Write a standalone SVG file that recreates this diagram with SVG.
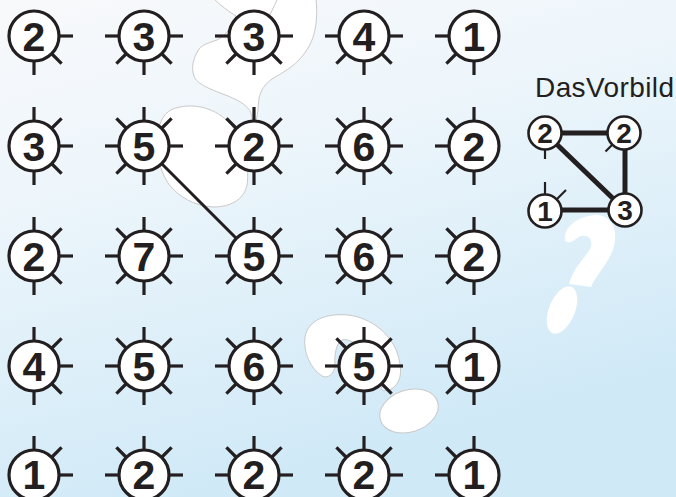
<svg xmlns="http://www.w3.org/2000/svg" xmlns:xlink="http://www.w3.org/1999/xlink" width="676" height="497" viewBox="0 0 676 497">
<style>
.sp{stroke:#231f20;stroke-width:3.2;stroke-linecap:butt}
.nc{fill:#fff;stroke:#231f20;stroke-width:3.2}
.nt{font-family:"Liberation Sans",Arial,sans-serif;font-weight:bold;font-size:41px;fill:#231f20;text-anchor:middle}
.blob{fill:#fff;stroke:#c9c9c9;stroke-width:1}
.conn{stroke:#231f20;stroke-width:3;fill:none}
.sconn{stroke:#231f20;stroke-width:5;fill:none}
.ssp{stroke:#231f20;stroke-width:2.2}
.snc{fill:#fff;stroke:#231f20;stroke-width:2.6}
.snt{font-family:"Liberation Sans",Arial,sans-serif;font-weight:bold;font-size:28px;fill:#231f20;text-anchor:middle}
.lbl{font-family:"Liberation Sans",Arial,sans-serif;font-size:28px;fill:#231f20}
</style>
<defs>
<linearGradient id="bg" x1="0" y1="0" x2="0.35" y2="1">
<stop offset="0" stop-color="#f8f9fb"/>
<stop offset="0.35" stop-color="#eef6fb"/>
<stop offset="1" stop-color="#cfe9f7"/>
</linearGradient>
<line id="N" class="sp" x1="0" y1="-24" x2="0" y2="-39"/>
<line id="S" class="sp" x1="0" y1="24" x2="0" y2="39"/>
<line id="E" class="sp" x1="24" y1="0" x2="39" y2="0"/>
<line id="W" class="sp" x1="-24" y1="0" x2="-39" y2="0"/>
<line id="NE" class="sp" x1="17" y1="-17" x2="27.6" y2="-27.6"/>
<line id="SE" class="sp" x1="17" y1="17" x2="27.6" y2="27.6"/>
<line id="SW" class="sp" x1="-17" y1="17" x2="-27.6" y2="27.6"/>
<line id="NW" class="sp" x1="-17" y1="-17" x2="-27.6" y2="-27.6"/>
<g id="ALL"><use href="#N"/><use href="#NE"/><use href="#E"/><use href="#SE"/><use href="#S"/><use href="#SW"/><use href="#W"/><use href="#NW"/></g>
</defs>
<rect width="676" height="497" fill="url(#bg)"/>
<g id="background-shapes">
<path class="blob" d="M213,-2 C220,5 228,11 236,16 C232,28 225,36 217,40 C208,43 202,45 199,49 C193,58 191,68 194,76 C196,84 212,90 228,96 C240,101 248,106 251,113 C252,118 252,122 254,125 C258,118 258,108 259,98 C261,90 265,84 272,79 C285,71 298,65 308,48 C316,35 318,18 316,-2 Z"/>
<path class="blob" d="M277,0 C274,7 270,14 267,21" fill="none"/>
<path class="blob" d="M180,107 C200,103 220,111 232,126 C243,142 250,165 247,185 C244,200 230,207 213,207 C195,206 178,197 168,183 C158,168 156,148 158,131 C161,116 168,109 180,107 Z"/>
<path class="blob" d="M322,376 C310,368 303,352 305,337 C308,320 326,313 348,315 C372,318 390,334 397,352 C401,364 402,375 398,382 C395,388 388,392 382,390 C380,378 373,364 364,352 C356,343 348,338 342,340 C336,343 334,356 335,366 C334,374 328,379 322,376 Z"/>
<ellipse class="blob" cx="409" cy="411" rx="30" ry="21" transform="rotate(-18 409 411)"/>
<path fill="#fff" d="M565,241 C563,227 578,216 596,215 C612,215 618,230 614,246 C610,262 597,273 591,287 L569,284 C573,268 585,258 590,249 C594,241 589,234 581,236 C575,238 572,245 565,241 Z"/>
<ellipse fill="#fff" cx="562" cy="310" rx="13" ry="25" transform="rotate(22 562 310)"/>
</g>
<g id="connectors">
<line class="conn" x1="144" y1="146" x2="254" y2="256"/>
</g>
<g id="n-r1c1" transform="translate(34,36)"><use href="#E"/><use href="#SE"/><use href="#S"/><circle class="nc" r="25"/><text class="nt" y="15">2</text></g>
<g id="n-r1c2" transform="translate(144,36)"><use href="#W"/><use href="#E"/><use href="#SW"/><use href="#S"/><use href="#SE"/><circle class="nc" r="25"/><text class="nt" y="15">3</text></g>
<g id="n-r1c3" transform="translate(254,36)"><use href="#W"/><use href="#E"/><use href="#SW"/><use href="#S"/><use href="#SE"/><circle class="nc" r="25"/><text class="nt" y="15">3</text></g>
<g id="n-r1c4" transform="translate(364,36)"><use href="#W"/><use href="#E"/><use href="#SW"/><use href="#S"/><use href="#SE"/><circle class="nc" r="25"/><text class="nt" y="15">4</text></g>
<g id="n-r1c5" transform="translate(474,36)"><use href="#W"/><use href="#SW"/><use href="#S"/><circle class="nc" r="25"/><text class="nt" y="15">1</text></g>
<g id="n-r2c1" transform="translate(34,146)"><use href="#N"/><use href="#NE"/><use href="#E"/><use href="#SE"/><use href="#S"/><circle class="nc" r="25"/><text class="nt" y="15">3</text></g>
<g id="n-r2c2" transform="translate(144,146)"><use href="#N"/><use href="#NE"/><use href="#E"/><use href="#S"/><use href="#SW"/><use href="#W"/><use href="#NW"/><circle class="nc" r="25"/><text class="nt" y="15">5</text></g>
<g id="n-r2c3" transform="translate(254,146)"><use href="#ALL"/><circle class="nc" r="25"/><text class="nt" y="15">2</text></g>
<g id="n-r2c4" transform="translate(364,146)"><use href="#ALL"/><circle class="nc" r="25"/><text class="nt" y="15">6</text></g>
<g id="n-r2c5" transform="translate(474,146)"><use href="#N"/><use href="#NW"/><use href="#W"/><use href="#SW"/><use href="#S"/><circle class="nc" r="25"/><text class="nt" y="15">2</text></g>
<g id="n-r3c1" transform="translate(34,256)"><use href="#N"/><use href="#NE"/><use href="#E"/><use href="#SE"/><use href="#S"/><circle class="nc" r="25"/><text class="nt" y="15">2</text></g>
<g id="n-r3c2" transform="translate(144,256)"><use href="#ALL"/><circle class="nc" r="25"/><text class="nt" y="15">7</text></g>
<g id="n-r3c3" transform="translate(254,256)"><use href="#N"/><use href="#NE"/><use href="#E"/><use href="#SE"/><use href="#S"/><use href="#SW"/><use href="#W"/><circle class="nc" r="25"/><text class="nt" y="15">5</text></g>
<g id="n-r3c4" transform="translate(364,256)"><use href="#ALL"/><circle class="nc" r="25"/><text class="nt" y="15">6</text></g>
<g id="n-r3c5" transform="translate(474,256)"><use href="#N"/><use href="#NW"/><use href="#W"/><use href="#SW"/><use href="#S"/><circle class="nc" r="25"/><text class="nt" y="15">2</text></g>
<g id="n-r4c1" transform="translate(34,366)"><use href="#N"/><use href="#NE"/><use href="#E"/><use href="#SE"/><use href="#S"/><circle class="nc" r="25"/><text class="nt" y="15">4</text></g>
<g id="n-r4c2" transform="translate(144,366)"><use href="#ALL"/><circle class="nc" r="25"/><text class="nt" y="15">5</text></g>
<g id="n-r4c3" transform="translate(254,366)"><use href="#ALL"/><circle class="nc" r="25"/><text class="nt" y="15">6</text></g>
<g id="n-r4c4" transform="translate(364,366)"><use href="#ALL"/><circle class="nc" r="25"/><text class="nt" y="15">5</text></g>
<g id="n-r4c5" transform="translate(474,366)"><use href="#N"/><use href="#NW"/><use href="#W"/><use href="#SW"/><use href="#S"/><circle class="nc" r="25"/><text class="nt" y="15">1</text></g>
<g id="n-r5c1" transform="translate(34,475)"><use href="#N"/><use href="#NE"/><use href="#E"/><circle class="nc" r="25"/><text class="nt" y="14">1</text></g>
<g id="n-r5c2" transform="translate(144,475)"><use href="#N"/><use href="#NE"/><use href="#E"/><use href="#W"/><use href="#NW"/><circle class="nc" r="25"/><text class="nt" y="14">2</text></g>
<g id="n-r5c3" transform="translate(254,475)"><use href="#N"/><use href="#NE"/><use href="#E"/><use href="#W"/><use href="#NW"/><circle class="nc" r="25"/><text class="nt" y="14">2</text></g>
<g id="n-r5c4" transform="translate(364,475)"><use href="#N"/><use href="#NE"/><use href="#E"/><use href="#W"/><use href="#NW"/><circle class="nc" r="25"/><text class="nt" y="14">2</text></g>
<g id="n-r5c5" transform="translate(474,475)"><use href="#N"/><use href="#NW"/><use href="#W"/><circle class="nc" r="25"/><text class="nt" y="14">1</text></g>
<text id="label" class="lbl" x="535" y="97" textLength="139" lengthAdjust="spacing">DasVorbild</text>
<g id="model-connectors">
<line class="sconn" x1="545" y1="133" x2="624" y2="133"/>
<line class="sconn" x1="545" y1="133" x2="625" y2="210"/>
<line class="sconn" x1="625" y1="133" x2="625" y2="210"/>
<line class="sconn" x1="545" y1="210" x2="625" y2="210"/>
</g>
<g id="m-2a" transform="translate(545,133)"><line class="ssp" x1="0" y1="16" x2="0" y2="26"/><circle class="snc" r="16.5"/><text class="snt" y="10">2</text></g>
<g id="m-2b" transform="translate(624,133)"><line class="ssp" x1="-12" y1="12" x2="-18.5" y2="18.5"/><circle class="snc" r="16.5"/><text class="snt" y="10">2</text></g>
<g id="m-1" transform="translate(545,211)"><line class="ssp" x1="0" y1="-16" x2="0" y2="-29"/><line class="ssp" x1="12" y1="-12" x2="21" y2="-21"/><circle class="snc" r="16.5"/><text class="snt" y="10">1</text></g>
<g id="m-3" transform="translate(625,210)"><circle class="snc" r="16.5"/><text class="snt" y="10">3</text></g>
</svg>
